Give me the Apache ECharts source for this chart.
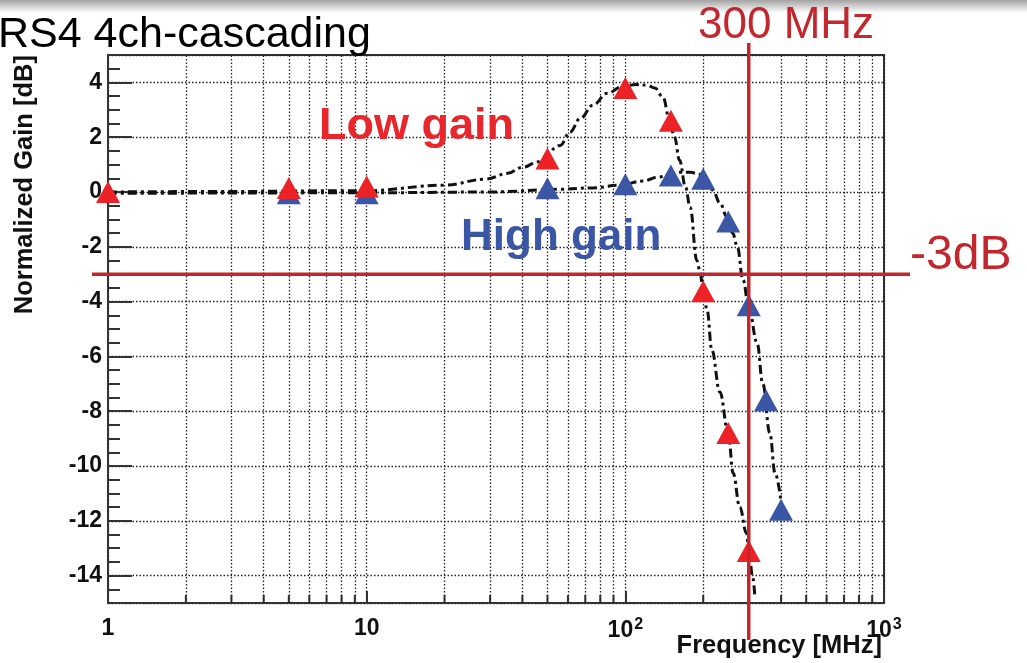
<!DOCTYPE html>
<html>
<head>
<meta charset="utf-8">
<title>DRS4 4ch-cascading</title>
<script src="https://cdn.jsdelivr.net/npm/echarts@6/dist/echarts.min.js"></script>
<style>
html, body { margin: 0; padding: 0; background: #fff; }
#chart { width: 1027px; height: 663px; }
</style>
</head>
<body>
<div id="chart"></div>
<script>
var lowFreq = [1, 5, 10, 50, 100, 150, 200, 250, 300];
var lowGain = [0, 0.15, 0.2, 1.22, 3.8, 2.6, -3.62, -8.8, -13.1];
var highFreq = [5, 10, 50, 100, 150, 200, 250, 300, 350, 400];
var highGain = [-0.05, -0.05, 0.14, 0.28, 0.6, 0.48, -1.08, -4.13, -7.6, -11.6];

// fit curves (dash-dot)
var lowFitFreq = [1, 3, 10, 20, 29, 35, 40, 46, 56, 61, 67, 75, 85, 98, 110, 121, 130, 140, 148, 155, 162, 171, 178, 189, 194, 200, 207, 216, 232, 250, 261, 277, 294, 300, 310, 317];
var lowFitGain = [0, 0.02, 0.05, 0.25, 0.47, 0.68, 0.9, 1.1, 1.7, 2.18, 2.69, 3.17, 3.6, 3.86, 3.92, 3.9, 3.8, 3.45, 2.65, 2.0, 1.16, 0.17, -0.55, -2.5, -2.85, -3.6, -4.3, -5.77, -7.3, -8.8, -10.26, -11.5, -12.45, -13.0, -14.0, -14.8];
var highFitFreq = [1, 10, 30, 56, 75, 95, 117, 135, 152, 162, 178, 194, 205, 218, 232, 247, 260, 271, 285, 300, 323, 340, 362, 379, 400];
var highFitGain = [-0.05, -0.03, 0, 0.1, 0.15, 0.25, 0.4, 0.55, 0.68, 0.72, 0.72, 0.65, 0.4, 0.07, -0.4, -0.9, -1.5, -2.0, -3.2, -4.2, -5.5, -7.0, -8.8, -10.26, -11.3];

// axis ticks
var xTicks = [1, 10, 100, 1000];
var xTickText = ['1', '10', '10{sup|2}', '10{sup|3}'];
var xMinor = [2, 3, 4, 5, 6, 7, 8, 9, 20, 30, 40, 50, 60, 70, 80, 90, 200, 300, 400, 500, 600, 700, 800, 900];
var cutFreq = 300;
var cutGain = -3;

var FONT = 'Liberation Sans, Arial, Helvetica, sans-serif';
var RED_LINE = '#c4262d';
var RED = '#ec2227';
var BLUE = '#3a56a5';

function pairs(xs, ys) {
    var out = [];
    for (var i = 0; i < xs.length; i++) out.push([xs[i], ys[i]]);
    return out;
}

var myChart = echarts.init(document.getElementById('chart'));

var gridDots = { type: [1.5, 2], color: '#222', width: 1.3 };
var fitStyle = { color: '#111', width: 3, type: [9, 4, 3, 4] };

var option = {
    animation: false,
    backgroundColor: '#fff',
    textStyle: { fontFamily: FONT },
    grid: {
        left: 108, right: 143, top: 55, bottom: 60,
        show: true, borderColor: '#333', borderWidth: 2,
        containLabel: false, outerBoundsMode: 'none'
    },
    xAxis: {
        type: 'log', logBase: 10, min: 1, max: 1000,
        axisLine: { show: true, onZero: false, lineStyle: { color: '#333', width: 2 } },
        axisTick: { show: true, inside: true, length: 12, lineStyle: { color: '#333', width: 2 } },
        splitLine: { show: true, lineStyle: gridDots },
        axisLabel: {
            margin: 14, color: '#111', fontFamily: FONT, fontWeight: 'bold', fontSize: 23,
            showMinLabel: true, showMaxLabel: true,
            formatter: function (v) {
                var i = xTicks.indexOf(Math.round(v));
                return i < 0 ? '' : xTickText[i];
            },
            rich: {
                sup: { fontFamily: FONT, fontWeight: 'bold', fontSize: 16, verticalAlign: 'top', padding: [0, 0, 12, 1] }
            }
        }
    },
    yAxis: [{
        type: 'value', min: -15, max: 5, splitNumber: 10,
        axisLine: { show: true, onZero: false, lineStyle: { color: '#333', width: 2 } },
        axisTick: { show: true, inside: true, length: 24, lineStyle: { color: '#333', width: 2 } },
        splitLine: { show: true, lineStyle: gridDots },
        axisLabel: {
            margin: 6, color: '#111', fontFamily: FONT, fontWeight: 'bold', fontSize: 23,
            showMinLabel: false, showMaxLabel: false
        }
    }, {
        // minor ticks every 0.5 dB
        type: 'value', min: -15, max: 5, interval: 0.5, position: 'left',
        axisLine: { show: false, onZero: false },
        axisTick: { show: true, inside: true, length: 12, lineStyle: { color: '#333', width: 2 } },
        splitLine: { show: false },
        axisLabel: { show: false }
    }],
    series: [{
        name: 'low fit', type: 'line', z: 3,
        data: pairs(lowFitFreq, lowFitGain),
        smooth: 0.4, smoothMonotone: 'x', showSymbol: false, symbol: 'none',
        lineStyle: fitStyle,
        markLine: {
            silent: true, symbol: 'none', animation: false,
            label: { show: false },
            lineStyle: gridDots,
            data: xMinor.map(function (v) { return { xAxis: v }; })
        }
    }, {
        name: 'high fit', type: 'line', z: 3,
        data: pairs(highFitFreq, highFitGain),
        smooth: 0.4, smoothMonotone: 'x', showSymbol: false, symbol: 'none',
        lineStyle: fitStyle
    }, {
        name: 'High gain', type: 'scatter', z: 5,
        data: pairs(highFreq, highGain),
        symbol: 'triangle', symbolSize: [24, 22],
        itemStyle: { color: BLUE, opacity: 1 }
    }, {
        name: 'Low gain', type: 'scatter', z: 6,
        data: pairs(lowFreq, lowGain),
        symbol: 'triangle', symbolSize: [24, 22],
        itemStyle: { color: RED, opacity: 1 }
    }],
    graphic: [{
        id: 'topShade', type: 'rect', z: 0,
        shape: { x: 0, y: 0, width: 1027, height: 13 },
        style: {
            fill: new echarts.graphic.LinearGradient(0, 0, 0, 1, [
                { offset: 0, color: '#a4a4a4' }, { offset: 1, color: '#ffffff' }
            ])
        }
    }, {
        id: 'title', type: 'text', x: -2, y: 35, z: 10,
        style: { text: 'RS4 4ch-cascading', font: '43px ' + FONT, fill: '#000', textVerticalAlign: 'middle' }
    }, {
        id: 'ytitle', type: 'text', x: 25, y: 55, z: 10, rotation: Math.PI / 2,
        style: { text: 'Normalized Gain [dB]', font: 'bold 25.5px ' + FONT, fill: '#111', textAlign: 'right', textVerticalAlign: 'middle' }
    }, {
        id: 'xtitle', type: 'text', x: 882, y: 646, z: 10,
        style: { text: 'Frequency [MHz]', font: 'bold 25.5px ' + FONT, fill: '#111', textAlign: 'right', textVerticalAlign: 'middle' }
    }, {
        id: 'lowLabel', type: 'text', x: 319, y: 127, z: 10,
        style: { text: 'Low gain', font: 'bold 45px ' + FONT, fill: '#e8262b', textVerticalAlign: 'middle' }
    }, {
        id: 'highLabel', type: 'text', x: 461, y: 238, z: 10,
        style: { text: 'High gain', font: 'bold 44px ' + FONT, fill: BLUE, textVerticalAlign: 'middle' }
    }, {
        id: 'mhzLabel', type: 'text', x: 698, y: 26, z: 10,
        style: { text: '300 MHz', font: '44px ' + FONT, fill: RED_LINE, textVerticalAlign: 'middle' }
    }, {
        id: 'dbLabel', type: 'text', x: 910, y: 256, z: 10,
        style: { text: '-3dB', font: '48px ' + FONT, fill: RED_LINE, textVerticalAlign: 'middle' }
    }]
};
myChart.setOption(option);

// the red cut lines run past the frame, so place them from the axis scale
var cut = myChart.convertToPixel({ seriesIndex: 0 }, [cutFreq, cutGain]);
var bottomY = myChart.convertToPixel({ seriesIndex: 0 }, [1, -15])[1];
var extra = [{
    id: 'vcut', type: 'line', z: 20,
    shape: { x1: cut[0], y1: 43, x2: cut[0], y2: 640 },
    style: { stroke: RED_LINE, lineWidth: 3.5 }
}, {
    id: 'hcut', type: 'line', z: 20,
    shape: { x1: 92, y1: cut[1], x2: 910, y2: cut[1] },
    style: { stroke: RED_LINE, lineWidth: 3.5 }
}];
// minor log ticks along the bottom
xMinor.forEach(function (v, i) {
    var px = myChart.convertToPixel({ seriesIndex: 0 }, [v, -15])[0];
    extra.push({
        id: 'mt' + i, type: 'line', z: 4,
        shape: { x1: px, y1: bottomY, x2: px, y2: bottomY - 8 },
        style: { stroke: '#333', lineWidth: 2 }
    });
});
myChart.setOption({ graphic: extra });
</script>
</body>
</html>
